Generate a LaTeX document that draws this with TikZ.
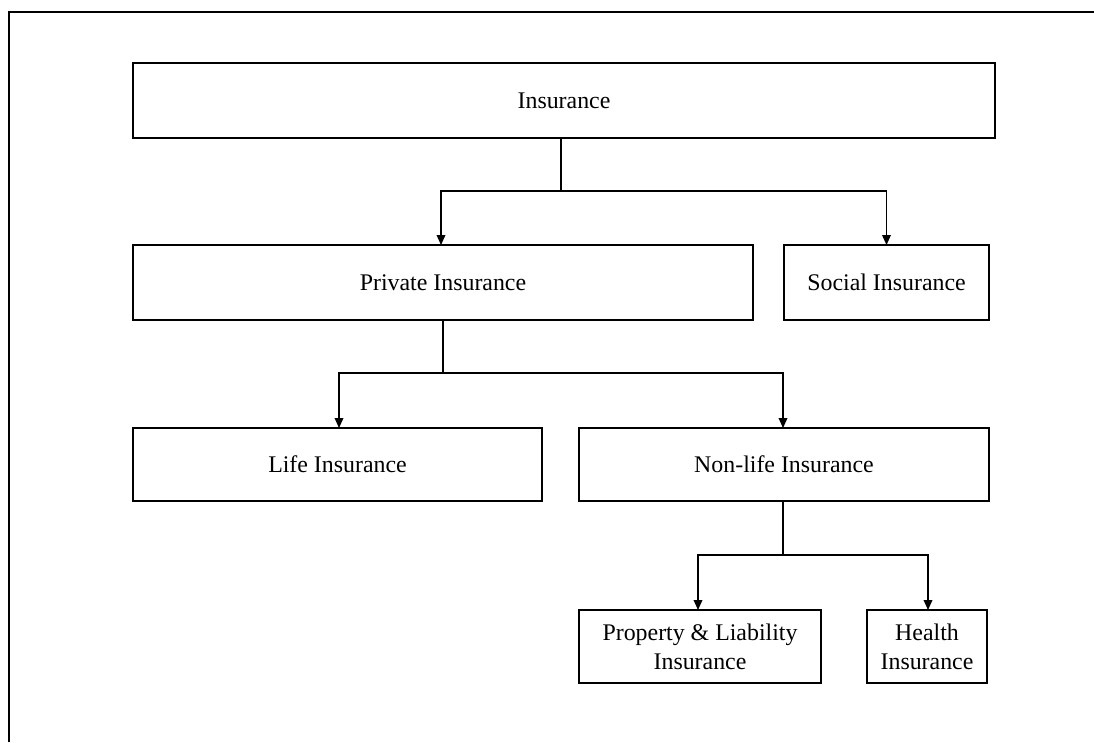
\documentclass[tikz,border=0pt]{standalone}
\usepackage{fontspec}
\setmainfont{Liberation Serif}
\usetikzlibrary{arrows.meta}
\tikzset{
  box/.style={draw, line width=1pt, inner sep=0pt, outer sep=0pt, align=center,
    font=\fontsize{17.9}{21.5}\selectfont},
  arr/.style={line width=1pt, -{Triangle[length=7.5pt,width=6.5pt]}},
  conn/.style={line width=1pt},
  frame/.style={line width=1.6pt}
}
\begin{document}
\begin{tikzpicture}[x=0.75pt,y=-0.75pt]
\useasboundingbox (0,0) rectangle (1094,742);
% frame
\coordinate (f1) at (9,742);
\coordinate (f2) at (9,12);
\coordinate (f3) at (1094,12);
\draw[frame] (f1) -- (f2) -- (f3);
% boxes
\node[box, minimum width=646.5pt, minimum height=56.25pt] (ins) at (564,100.5) {Insurance};
\node[box, minimum width=465pt, minimum height=56.25pt] (priv) at (443,282.5) {Private Insurance};
\node[box, minimum width=153.75pt, minimum height=56.25pt] (soc) at (886.5,282.5) {Social Insurance};
\node[box, minimum width=306.75pt, minimum height=54.75pt] (life) at (337.5,464.5) {Life Insurance};
\node[box, minimum width=307.5pt, minimum height=54.75pt] (non) at (784,464.5) {Non-life Insurance};
\node[box, minimum width=181.5pt, minimum height=54.75pt] (prop) at (700,646.5) {Property \& Liability\\Insurance};
\node[box, minimum width=90pt, minimum height=54.75pt] (health) at (927,646.5) {Health\\Insurance};
% junctions
\coordinate (j1) at (561,191);
\coordinate (j2) at (443,373);
\coordinate (j3) at (783,555);
\draw[conn] (ins.south -| j1) -- (j1);
\draw[arr] (j1) -| (priv.north -| 441,0);
\draw[arr] (j1) -| (soc.north);
\draw[conn] (priv.south -| j2) -- (j2);
\draw[arr] (j2) -| (life.north -| 339,0);
\draw[arr] (j2) -| (non.north -| 783,0);
\draw[conn] (non.south -| j3) -- (j3);
\draw[arr] (j3) -| (prop.north -| 698,0);
\draw[arr] (j3) -| (health.north -| 928,0);
\end{tikzpicture}
\end{document}
